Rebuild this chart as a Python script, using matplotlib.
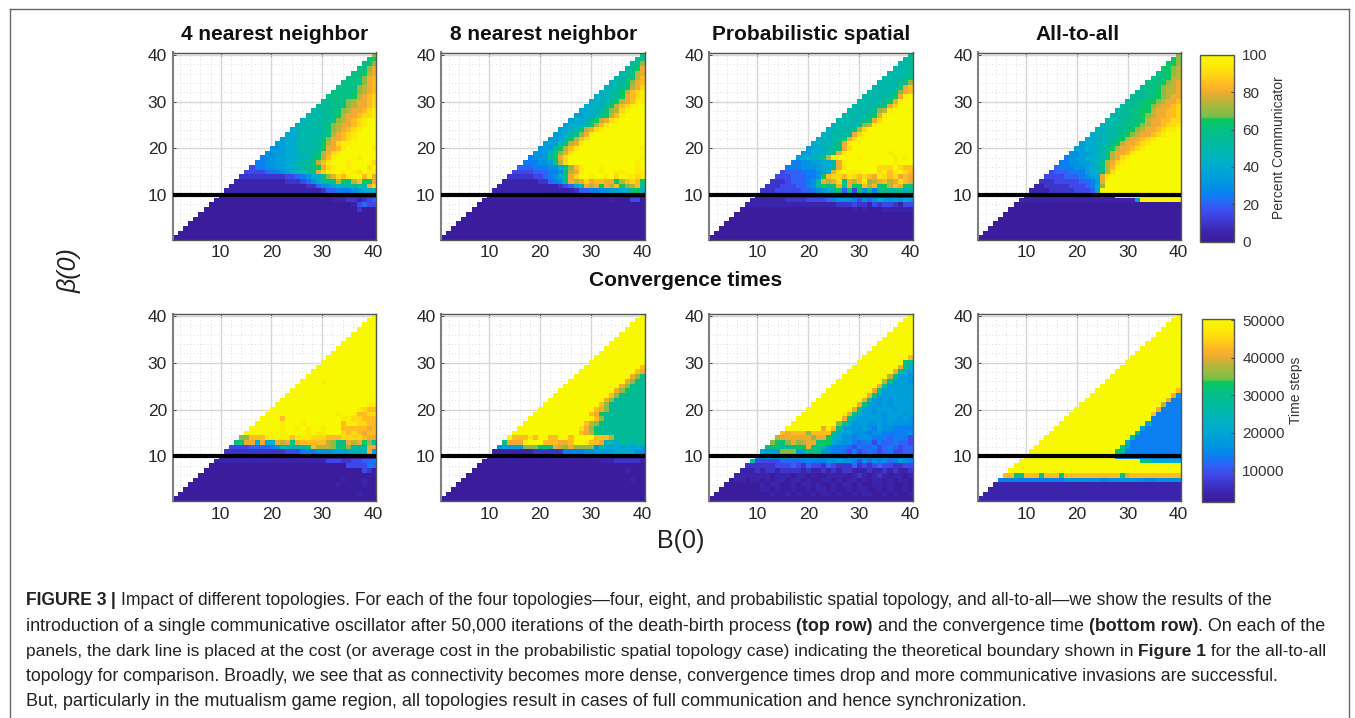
import numpy as np
import matplotlib
matplotlib.use('Agg')
import matplotlib.pyplot as plt
from matplotlib.colors import LinearSegmentedColormap, Normalize
from matplotlib.cm import ScalarMappable
from matplotlib.lines import Line2D

plt.rcParams['font.family'] = ['Liberation Sans', 'DejaVu Sans']

W, H = 1355, 718

# a row shorter than the triangle keeps its first char to the left.
# chars are levels of 5% of the colour range: 0..9, a..k
top_4nn = [
 "e", "cd", "cce", "cceg", "ccdfg", "cccegh", "ccccegh", "ccccefgh", "cccccefgh", "cccccdfghi",
 "bbbccefgghi", "bbbcccefgghi", "aabbccefgghij", "aaabbcdfgghiij", "9aaabbcefghijkk", "9aaabbcefgghijkk",
 "89aaaabcefghijkkk", "889aaaabcfghijkkkk", "7889aaabcegghijkkkk", "77889aaabdfgijjkkkkk",
 "667889aaabdgghjkkkkkj", "6677889aabcfgijkkkkkkk", "566778899abdfhjkkkkjkkk", "55667788aabcfhjkkkjkkkki",
 "3556677889abcdgijkkjkkkik", "3333455678aabcgijkkjkjikjj", "2222222223345689cegihjkkhjg",
 "11111111112223468accfdbfhdcg", "111111111111111224668" "9aabbagi", "1111111111111111111" "2445556" "7889",
 "1", "0111221234", "013433", "02000", "0", "0", "0", "0", "0", "0",
]
top_8nn = [
 "c", "bc", "bbe", "abdg", "abcfg", "aabcfh", "9abcegh", "99abcfgi", "899abdfhij", "8899abdghij",
 "88899abdfghjj", "888899bdfhijkk", "78899acefijkkk", "77889bdfhjkkkk", "77889bdfgijkkkkk", "77889adfhjkkkkkkk",
 "7788acfgijkkkkkkkk", "77778acegjkkkkkkkkkk", "67778adfhjkkkkkkkkkkk", "667779cfgjkkkkkkkkkkkk",
 "66677bdfhjkkkkkkkkkkkkj", "6667acegjkkkkkkkkkkkkkk", "55667bdgikkkkkkkkkkkkkkj", "555667cfikkkkkkkkkkkkkjk",
 "4555668cehjkkkjkkkkkkjk", "3444556cfgjkkkjkkjjkkjj", "222334568cgikkjkkjkikjjij",
 "111122456bgfgighhggdfhihc", "1111112348agfgdgfhdefhc", "11111124455667788" "cd9",
 "0", "001000330", "0", "0", "0", "0", "0", "0", "0", "0",
]
top_spatial = [
 "b", "ab", "aab", "aaab", "aabb", "aaabc", "aaabce", "aaaacgh", "aaaaabegh", "aaaaabdgjk",
 "aaaabdgjkk", "aaaaabcgikkk", "aaaaabefjkkkk", "aaaaabdgjkkkkk", "aaaaabdgikkkkkk", "9aaaabefjkkkkkkk",
 "9aaaacfikkkkkkkkk", "99aaabgikkkkkkkkkk", "8899abdgikkkkkkkkkkk", "888999acgjkkkkkkkkkkkk",
 "77889abcgikkkkkkkkkkkk", "7778" "89acgj" "kkkkkkkkjkkkk", "6677889acfjkkkkjkkkkkkjkjk", "55667788agj" "kkkkkkkkkjkkk",
 "555666788bgj" "kkkkkkiiikihh", "3444555678gj" "kjjjkkkijhjkih", "333444556dh" "iihjihihgjihighg",
 "222344456agf" "gicgfhjefghfgihg", "2223334456bdc" "dgcgddhfhcdfhgdc", "22233333445678" "9d4c3d6c5bcabc8b",
 "1", "1122223333456665364687676" "87", "111111111222322132332133", "000000101000111111", "0", "0", "0", "0", "0", "0",
]
top_all = [
 "e", "de", "dde", "ddef", "ccdef", "cccdff", "cccdefg", "bccdeffg", "bbccdeffg", "bbbccdefgg",
 "bbccddefggh", "abbccdefgghi", "abbccddfgghhi", "aabbccdefgghhi", "aaabbccdfgghhii", "9aabbccdefgghiij",
 "99aabbcdefgghijjk", "899aabcdefgghijkkk", "8899abcdfgghijkkkkk", "78899abdfgghijkkkkkk",
 "77889abdfgghijkkkkkkk", "667789acfgghjkkkkkkkkk", "5667889acfgijkkkkkkkkkk", "55667789bfgijkkkkkkkkkkk",
 "455566789cfhjkkkkkkkkkkkk", "3444555789bfikkkkkkkkkkkkk", "33334445678gjkkkkkkkkkkkkkk",
 "222333334457gkkkkkkkkkkkkkkk", "11222223334" "58e" "kkkkkkkkkkkkkkk", "1111222223334" "8" "kkkkkkkkkkkkkkkk",
 "1kkkkkkkkkkkkk", "17kkkkkkkk", "0", "0", "0", "0", "0", "0", "0", "0",
]
bot_4nn = [
 "k", "k", "k", "k", "k", "k", "k", "k", "k", "k",
 "k", "k", "k", "k", "kjkkkkkkkkkk", "k",
 "k", "k", "k", "kjj",
 "kjihh", "kjkkjhhii", "kh" "kkkkkkkkkkk" "jjiihhh", "kjkkkjkkkkkkkhjjiihh",
 "kkjkkjkjkkjkkkhhhhhgh", "kkkkkkkjkkkkjkjjkkkihihghh", "ehhhjjkjjhjjjiiihhhiiiihgg",
 "ccgg8g88gfgcghhhhhfecbgfgdeb", "33333444456b8ba9chfffecdebbagg", "2222222222223335556667778" "999g7",
 "1", "11113332233445", "0333354", "0320", "0", "01000100", "0010000100", "0", "01000", "0",
]
bot_8nn = [
 "k", "k", "k", "k", "k", "k", "k", "k", "k", "k",
 "k", "kh", "khg", "kgec", "kgecb", "kgecbb",
 "kgedbbb", "khebbbbb", "kgebbbbbb", "khebbbbbbb",
 "khgebbbbbbb", "khgdbbbbbbbb", "kjhebbbbbbbb", "khfecbbbbbbbb",
 "kigecbbbbbbbbb", "khgfdbbbbbbbbb", "khhhjhkkhhkkhkkkkhhhfbbbbbb",
 "cggg" "jkkk" "hhh" "gg" "h" "kkj" "hhg" "9" "b8baabb", "67777eeecdcgfegeeee6b8" "7878787", "1222222" "555566" "7777" "8888" "66",
 "1", "0111222221", "0", "001000", "0", "0100", "0", "0", "0", "0",
]
bot_spatial = [
 "k", "k", "k", "k", "k", "k", "k", "k", "k", "kh",
 "kcb", "kgc8", "kgc87", "kfc776", "kfc7776", "kgc77777",
 "kgc777777", "kgc7777777", "kgc66767777", "kgc776767777",
 "kgc7767776777", "kjgc87767677767", "kgc877777677676", "kec8677667676666",
 "kgjhc77667657665555", "hghhhehhhhc877666566555556", "fggggggeggd8866566655545553",
 "edcegefggcdd8766545535445443", "bccbbcddgccb65554354453454344", "8777eee77ccc665543534543453344",
 "6", "a33333" "4444" "55555" "66766536465645765", "2333432433243222423234332233",
 "1112122122221211212122111211212112", "10111011010011110121012101101",
 "011011010110110100110101101011010110", "0101100101101001011010011010010",
 "00110100100101101001011001010010", "01001010010110100101100101001", "0",
]
bot_all = [
 "k", "k", "k", "k", "k", "k", "k", "k", "k", "k",
 "k", "k", "k", "k", "k", "k",
 "kh", "kg6", "kg55", "kf555",
 "kg5555", "kh55555", "k555555", "k8555555",
 "k75555555", "kb55555555", "ka555555555",
 "k8" "5555555555", "kc7" "5555555555", "kdc" "55555555555",
 "k" "5555555555555", "kcc888888", "k", "k", "hhcchhhchhhc" "hhhhhhhhhhh" "cg" "hhhhhhhhhh",
 "55555555555566666665566666665566666", "1", "1", "1", "1",
]

top_panels = [top_4nn, top_8nn, top_spatial, top_all]
bot_panels = [bot_4nn, bot_8nn, bot_spatial, bot_all]
titles = ['4 nearest neighbor', '8 nearest neighbor', 'Probabilistic spatial', 'All-to-all']
tick_vals = [10, 20, 30, 40]
pct_ticks = [0, 20, 40, 60, 80, 100]
time_ticks = [10000, 20000, 30000, 40000, 50000]

LEVELS = "0123456789abcdefghijk"
pct_range = (0, 100)
time_range = (1500, 50300)

cmap = LinearSegmentedColormap.from_list('comm', [
    (0.00, '#3a1c9c'), (0.05, '#3d24ad'), (0.15, '#3f48ea'), (0.20, '#2f62f6'),
    (0.25, '#0c7ff2'), (0.30, '#0094e2'), (0.40, '#00abd0'), (0.50, '#00b8aa'),
    (0.60, '#05c082'), (0.655, '#08c95c'), (0.67, '#76c04a'), (0.75, '#b8b53a'),
    (0.80, '#f0ab30'), (0.85, '#ffbc22'), (0.90, '#ffd812'), (0.95, '#fcec06'), (1.00, '#f8f800')])
cmap.set_bad('white', 0)


def decode(rows, lo, hi):
    grid = np.full((40, 40), np.nan)
    for i, row in enumerate(rows):
        y = 40 - i
        n = 41 - y
        row = row.rjust(n, row[0])[-n:]
        for j, c in enumerate(row):
            grid[y - 1, y - 1 + j] = lo + LEVELS.index(c) / 20 * (hi - lo)
    return grid


def px_box(x0, y0, x1, y1):
    return [x0 / W, 1 - y1 / H, (x1 - x0) / W, (y1 - y0) / H]


def ftext(x, y, s, **kw):
    kw.setdefault('color', '#222222')
    return fig.text(x / W, 1 - y / H, s, **kw)


fig = plt.figure(figsize=(W / 100, H / 100), dpi=100)

# outer border of the figure
for xs, ys in [((9.5, 9.5), (8.5, H)), ((9.5, 1349), (8.5, 8.5)), ((1349, 1349), (8.5, H))]:
    fig.add_artist(Line2D([x / W for x in xs], [1 - y / H for y in ys], color='#666666', lw=1))

col_x = [(172.5, 375.5), (441, 644.5), (709, 913), (978, 1181)]
title_x = [275, 544, 811, 1078]
rows_y = [(52.5, 239.5), (313.5, 501)]


def draw_panel(box, rows, lo, hi):
    ax = fig.add_axes(px_box(box[0], box[1], box[2], box[3]))
    ax.imshow(decode(rows, lo, hi), origin='lower', extent=(0.5, 40.5, 0.5, 40.5), aspect='auto',
              cmap=cmap, vmin=lo, vmax=hi, interpolation='nearest', zorder=2)
    ax.set_xlim(0.5, 40.5)
    ax.set_ylim(0.5, 40.5)
    ax.set_xticks(tick_vals)
    ax.set_yticks(tick_vals)
    ax.set_xticks(np.arange(2, 41, 2), minor=True)
    ax.set_yticks(np.arange(2, 41, 2), minor=True)
    ax.grid(True, which='major', color='#d6d6d6', lw=1, zorder=0)
    ax.grid(True, which='minor', color='#dcdcdc', lw=0.7, ls=(0, (1, 2.5)), zorder=0)
    ax.tick_params(which='minor', length=0)
    ax.tick_params(which='major', direction='in', length=2, width=0.7, color='#444444', labelsize=12.5,
                   labelcolor='#262626', top=True, right=True, pad=4)
    ax.axhline(10, color='black', lw=3, zorder=3)
    for s in ax.spines.values():
        s.set_color('#555555')
        s.set_linewidth(1)
    ax.spines['left'].set_color('#808080')
    ax.spines['left'].set_linewidth(1.5)
    return ax


for c in range(4):
    draw_panel((col_x[c][0], rows_y[0][0], col_x[c][1], rows_y[0][1]), top_panels[c], *pct_range)
    draw_panel((col_x[c][0], rows_y[1][0], col_x[c][1], rows_y[1][1]), bot_panels[c], *time_range)
    ftext(title_x[c], 35, titles[c], fontsize=15, fontweight='bold', ha='center', va='center', color='#111111')

ftext(686, 281, 'Convergence times', fontsize=15, fontweight='bold', ha='center', va='center', color='#111111')
ftext(681, 541, 'B(0)', fontsize=18, ha='center', va='center')
ftext(70, 271, '\u03b2(0)', fontsize=18, ha='center', va='center', rotation=90, style='italic')


def draw_cbar(box, lo, hi, ticks, label, label_x, label_y):
    cax = fig.add_axes(px_box(*box))
    cb = fig.colorbar(ScalarMappable(Normalize(lo, hi), cmap), cax=cax)
    cb.set_ticks(ticks)
    cax.tick_params(direction='in', length=2, width=0.7, color='#444444', labelsize=11, labelcolor='#333333', pad=6)
    cb.outline.set_edgecolor('#555555')
    cb.outline.set_linewidth(1)
    ftext(label_x, label_y, label, fontsize=10, rotation=90, ha='center', va='center', color='#333333')


draw_cbar((1200, 55, 1234, 241.5), 0, 100, pct_ticks, 'Percent Communicator', 1279, 148)
draw_cbar((1202, 319, 1234, 502), *time_range, time_ticks, 'Time steps', 1296, 390)

# caption, every line fitted to the width it has in the figure
caption = [
    (26, 1280, 605, [("FIGURE 3", True), (" | ", True),
                     ("Impact of different topologies. For each of the four topologies\u2014four, eight, and probabilistic spatial topology, and all-to-all\u2014we show the results of the", False)]),
    (26, 1322, 631, [("introduction of a single communicative oscillator after 50,000 iterations of the death-birth process ", False),
                     ("(top row)", True), (" and the convergence time ", False), ("(bottom row)", True), (". On each of the", False)]),
    (26, 1322, 656, [("panels, the dark line is placed at the cost (or average cost in the probabilistic spatial topology case) indicating the theoretical boundary shown in ", False),
                     ("Figure 1", True), (" for the all-to-all", False)]),
    (26, 1280, 681, [("topology for comparison. Broadly, we see that as connectivity becomes more dense, convergence times drop and more communicative invasions are successful.", False)]),
    (26, 1029, 706, [("But, particularly in the mutualism game region, all topologies result in cases of full communication and hence synchronization.", False)]),
]
renderer = fig.canvas.get_renderer()


def run_width(s, size, bold):
    # the bars keep trailing spaces in the measure
    t = fig.text(0, 0, s + '|', fontsize=size, fontweight='bold' if bold else 'normal')
    b = fig.text(0, 0, '|', fontsize=size, fontweight='bold' if bold else 'normal')
    w = t.get_window_extent(renderer).width - b.get_window_extent(renderer).width
    t.remove()
    b.remove()
    return w


for x0, x1, y, runs in caption:
    total = sum(run_width(s, 12, bold) for s, bold in runs)
    size = 12 * (x1 - x0) / total
    x = x0
    for s, bold in runs:
        ftext(x, y, s, fontsize=size, fontweight='bold' if bold else 'normal', ha='left', va='baseline', color='#222222')
        x += run_width(s, size, bold)

fig.savefig('out.png', dpi=100)
